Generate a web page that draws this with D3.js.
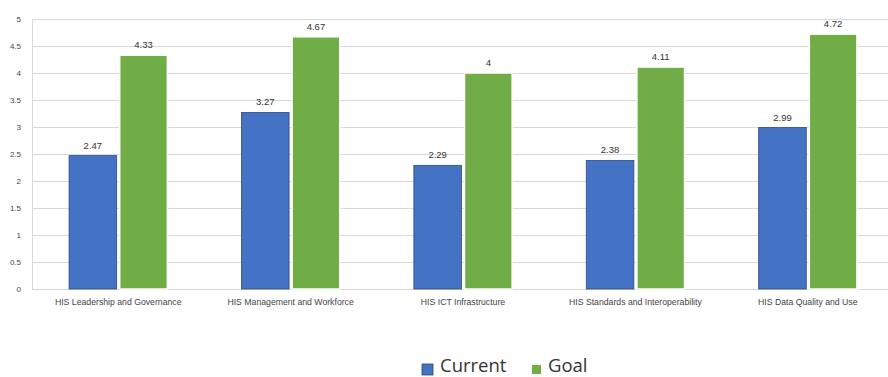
<!DOCTYPE html>
<html><head><meta charset="utf-8">
<script src="https://cdn.jsdelivr.net/npm/d3@7"></script>
<style>
html,body{margin:0;padding:0;background:#fff;}
svg{display:block;}
</style></head>
<body>
<svg id="chart" width="888" height="377"></svg>
<script>
const categories = ["HIS Leadership and Governance","HIS Management and Workforce","HIS ICT Infrastructure","HIS Standards and Interoperability","HIS Data Quality and Use"];
const seriesNames = ["Current","Goal"];
const currentValues = [2.47, 3.27, 2.29, 2.38, 2.99];
const goalValues = [4.33, 4.67, 4, 4.11, 4.72];
const yTicks = [0,0.5,1,1.5,2,2.5,3,3.5,4,4.5,5];
const colors = ["#4472C4","#70AD47"];

(function(){
const svg = d3.select("#chart");
const pLeft = 32, pRight = 894, pTop = 19, pBottom = 289;

const x = d3.scaleBand().domain(categories).range([pLeft, pRight]).paddingInner(0.43).paddingOuter(0.215);
const x1 = d3.scaleBand().domain(seriesNames).range([0, x.bandwidth()]).paddingInner(0.06);
const y = d3.scaleLinear().domain([0,5]).range([pBottom, pTop]);

// gridlines
svg.append("g").selectAll("line").data(yTicks).join("line")
  .attr("x1", pLeft).attr("x2", 888)
  .attr("y1", d => Math.round(y(d)) + 0.5).attr("y2", d => Math.round(y(d)) + 0.5)
  .attr("stroke", "#d9d9d9").attr("stroke-width", 1);

// y axis line
svg.append("line").attr("x1", pLeft + 0.5).attr("x2", pLeft + 0.5).attr("y1", pTop).attr("y2", pBottom)
  .attr("stroke", "#d9d9d9");

// y axis labels
const yAxis = d3.axisLeft(y).tickValues(yTicks).tickSize(0).tickPadding(0).tickFormat(d => String(d));
const yg = svg.append("g").attr("transform", `translate(21,0)`).call(yAxis);
yg.select(".domain").remove();
yg.selectAll("text").attr("font-family", "'Liberation Sans', Arial, sans-serif").attr("font-size", 8).attr("fill", "#444");

// x axis
const xAxis = d3.axisBottom(x).tickSize(0).tickPadding(10);
const xg = svg.append("g").attr("transform", `translate(0,${pBottom})`).call(xAxis);
xg.select(".domain").attr("stroke", "#d9d9d9").attr("d", `M${pLeft},0.5H888`);
xg.selectAll("text").attr("font-family", "'Liberation Sans', Arial, sans-serif").attr("font-size", 8.7).attr("fill", "#444");

const data = categories.map((c, i) => ({cat: c, vals: [currentValues[i], goalValues[i]]}));

const groups = svg.append("g").selectAll("g").data(data).join("g")
  .attr("transform", d => `translate(${x(d.cat)},0)`);

groups.selectAll("rect").data(d => d.vals.map((v, j) => ({name: seriesNames[j], v, j}))).join("rect")
  .attr("x", d => x1(d.name))
  .attr("width", x1.bandwidth())
  .attr("y", d => y(d.v))
  .attr("height", d => y(0) - y(d.v))
  .attr("fill", d => colors[d.j])
  .attr("stroke", d => d.j === 0 ? "#2f4a80" : "#ffffff")
  .attr("stroke-width", d => d.j === 0 ? 0.8 : 1.5);

groups.selectAll("text.val").data(d => d.vals.map((v, j) => ({name: seriesNames[j], v, j}))).join("text")
  .attr("class", "val")
  .attr("x", d => x1(d.name) + x1.bandwidth() / 2)
  .attr("y", d => y(d.v) - 7)
  .attr("text-anchor", "middle")
  .attr("font-family", "'Liberation Sans', Arial, sans-serif")
  .attr("font-size", 9.5).attr("fill", "#333")
  .text(d => String(d.v));

// legend
const legend = svg.append("g");
legend.append("rect").attr("x", 422).attr("y", 364).attr("width", 11).attr("height", 11)
  .attr("fill", colors[0]).attr("stroke", "#2f4a80").attr("stroke-width", 0.8);
legend.append("text").attr("x", 440).attr("y", 372).text(seriesNames[0])
  .attr("font-family", "'Open Sans', 'Liberation Sans', sans-serif").attr("font-size", 18.5).attr("fill", "#333");
legend.append("rect").attr("x", 532).attr("y", 365).attr("width", 9).attr("height", 9)
  .attr("fill", colors[1]);
legend.append("text").attr("x", 548).attr("y", 372).text(seriesNames[1])
  .attr("font-family", "'Open Sans', 'Liberation Sans', sans-serif").attr("font-size", 18.5).attr("fill", "#333");
})();
</script>
</body></html>
